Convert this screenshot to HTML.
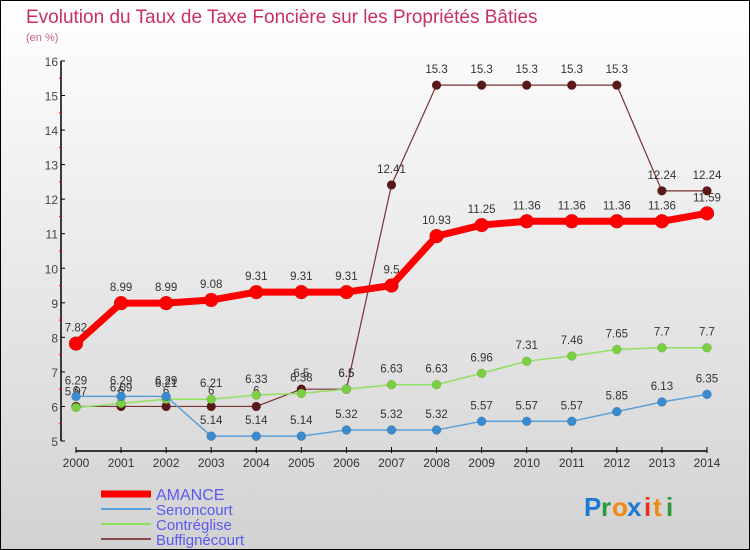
<!DOCTYPE html>
<html><head><meta charset="utf-8"><style>
html,body{margin:0;padding:0;width:750px;height:550px;overflow:hidden}
#wrap{position:relative;width:748px;height:548px;border:1px solid #000;background:linear-gradient(#ffffff,#d2d2d2);font-family:"Liberation Sans",sans-serif}
svg{position:absolute;left:0;top:0}
</style></head><body>
<div id="wrap">
<svg id="chart" width="748" height="548">
<text x="25" y="22" font-size="19" fill="#c8305e">Evolution du Taux de Taxe Foncière sur les Propriétés Bâties</text>
<text x="25" y="40" font-size="11" fill="#c8608a">(en %)</text>
<g id="axes"></g><g id="series"></g><g id="legend"></g>
<g font-size="26" font-weight="bold" font-family="Liberation Sans, sans-serif">
<text x="583" y="515" fill="#1a7ad4">P</text><text x="600" y="515" fill="#2a9a3a">r</text><text x="611" y="515" fill="#f08a10">o</text><text x="626" y="515" fill="#1a7ad4">x</text><text x="643" y="515" fill="#e83020">i</text><text x="652" y="515" fill="#f08a10">t</text><text x="665" y="515" fill="#2a9a3a">i</text>
</g>
</svg></div>
<script>
const years=[2000,2001,2002,2003,2004,2005,2006,2007,2008,2009,2010,2011,2012,2013,2014];
const amance=[7.82,8.99,8.99,9.08,9.31,9.31,9.31,9.5,10.93,11.25,11.36,11.36,11.36,11.36,11.59];
const senoncourt=[6.29,6.29,6.29,5.14,5.14,5.14,5.32,5.32,5.32,5.57,5.57,5.57,5.85,6.13,6.35];
const contreglise=[5.97,6.09,6.21,6.21,6.33,6.38,6.5,6.63,6.63,6.96,7.31,7.46,7.65,7.7,7.7];
const buffignecourt=[6,6,6,6,6,6.5,6.5,12.41,15.3,15.3,15.3,15.3,15.3,12.24,12.24];
const yTicks=[5,6,7,8,9,10,11,12,13,14,15,16];
const NS="http://www.w3.org/2000/svg";
const xS=i=>75+i*45.07;
const yS=v=>440-(v-5)*34.55;
function mk(tag,attrs,parent){const e=document.createElementNS(NS,tag);for(const k in attrs)e.setAttribute(k,attrs[k]);parent.appendChild(e);return e;}
const axes=document.getElementById('axes');
let l=mk('line',{x1:60,y1:yS(16),x2:60,y2:yS(5),stroke:'#000','stroke-width':1.5},axes);


l=mk('line',{x1:75,y1:450,x2:706,y2:450,stroke:'#000','stroke-width':1.5},axes);


yTicks.forEach(v=>{
 mk('line',{x1:60,y1:yS(v),x2:64,y2:yS(v),stroke:'#000'},axes);
 if(v<16)mk('line',{x1:58,y1:yS(v+0.5),x2:61,y2:yS(v+0.5),stroke:'#f00'},axes);
 const t=mk('text',{x:57,y:yS(v)+5,'font-size':12,fill:'#444','text-anchor':'end'},axes);
 t.textContent=v;
 
 
});
years.forEach((y,i)=>{
 mk('line',{x1:xS(i),y1:446,x2:xS(i),y2:452,stroke:'#000'},axes);
 const t=mk('text',{x:xS(i),y:466,'font-size':12,fill:'#333','text-anchor':'middle'},axes);
 t.textContent=y;
 
 
});
const series=[
 {name:'buffignecourt',vals:buffignecourt,color:'#7a3030',pt:'#5a1818',w:1.2,r:4.5},
 {name:'contreglise',vals:contreglise,color:'#90e060',pt:'#7ad040',w:1.5,r:4.5},
 {name:'senoncourt',vals:senoncourt,color:'#5aa0d8',pt:'#3a8ad0',w:1.5,r:4.5},
 {name:'amance',vals:amance,color:'#f00',pt:'#f00',w:7,r:7}
];
const sg=document.getElementById('series');
series.forEach(s=>{
 const g=mk('g',{},sg);
 
 
 const p=mk('polyline',{points:s.vals.map((v,i)=>xS(i)+','+yS(v)).join(' '),fill:'none',stroke:s.color,'stroke-width':s.w,'stroke-linejoin':'round'},g);
 
 
 s.vals.forEach((v,i)=>{
  const c=mk('circle',{cx:xS(i),cy:yS(v),r:s.r,fill:s.pt,stroke:'#0003','stroke-width':0.5},g);
  
  
  const t=mk('text',{x:xS(i),y:yS(v)-12,'font-size':11.5,fill:'#333','text-anchor':'middle'},g);
  t.textContent=v;
  
  
 });
});
const leg=[['AMANCE','#f00',7],['Senoncourt','#5aa0d8',2],['Contréglise','#90e060',2],['Buffignécourt','#8a4a4a',2]];
const lg=document.getElementById('legend');
leg.forEach((e,i)=>{
 const y=493+i*15;
 const g=mk('g',{},lg);
 
 
 mk('line',{x1:100,y1:y,x2:150,y2:y,stroke:e[1],'stroke-width':e[2]},g);
 const t=mk('text',{x:155,y:y+6,'font-size':i==0?16:15,fill:'#5a5af0'},g);
 t.textContent=e[0];
});
</script>
</body></html>
